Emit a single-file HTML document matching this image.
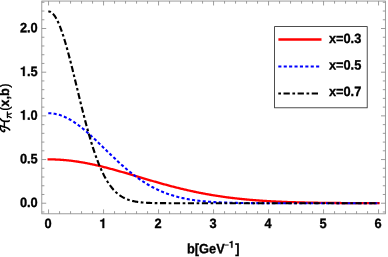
<!DOCTYPE html>
<html><head><meta charset="utf-8"><style>
html,body{margin:0;padding:0;background:#fff;}
svg{display:block;will-change:transform;}
text{text-rendering:geometricPrecision;font-kerning:none;font-family:"Liberation Sans",sans-serif;font-weight:bold;font-size:13px;}
.t{fill:#000;stroke:#000;stroke-width:0.3px;}
</style></head><body>
<svg width="388" height="257" viewBox="0 0 388 257">
<rect width="388" height="257" fill="#fff"/>
<g fill="none" stroke-linejoin="round">
<path d="M48.66,159.38 L49.48,159.38 L50.31,159.38 L51.13,159.39 L51.96,159.41 L52.78,159.42 L53.61,159.45 L54.43,159.47 L55.26,159.50 L56.08,159.53 L56.91,159.57 L57.73,159.61 L58.56,159.65 L59.38,159.70 L60.21,159.75 L61.03,159.80 L61.86,159.86 L62.68,159.92 L63.51,159.99 L64.33,160.06 L65.15,160.13 L65.98,160.20 L66.80,160.28 L67.63,160.37 L68.45,160.45 L69.28,160.54 L70.10,160.64 L70.93,160.73 L71.75,160.83 L72.58,160.94 L73.40,161.04 L74.23,161.15 L75.05,161.27 L75.88,161.38 L76.70,161.50 L77.53,161.63 L78.35,161.75 L79.17,161.88 L80.00,162.02 L80.82,162.15 L81.65,162.29 L82.47,162.43 L83.30,162.58 L84.12,162.73 L84.95,162.88 L85.77,163.03 L86.60,163.19 L87.42,163.35 L88.25,163.51 L89.07,163.67 L89.90,163.84 L90.72,164.01 L91.55,164.18 L92.37,164.36 L93.20,164.54 L94.02,164.72 L94.84,164.90 L95.67,165.08 L96.49,165.27 L97.32,165.46 L98.14,165.65 L98.97,165.85 L99.79,166.04 L100.62,166.24 L101.44,166.44 L102.27,166.64 L103.09,166.85 L103.92,167.06 L104.74,167.26 L105.57,167.47 L106.39,167.69 L107.22,167.90 L108.04,168.12 L108.86,168.33 L109.69,168.55 L110.51,168.77 L111.34,168.99 L112.16,169.22 L112.99,169.44 L113.81,169.67 L114.64,169.90 L115.46,170.13 L116.29,170.36 L117.11,170.59 L117.94,170.82 L118.76,171.05 L119.59,171.29 L120.41,171.52 L121.24,171.76 L122.06,172.00 L122.89,172.24 L123.71,172.47 L124.53,172.71 L125.36,172.95 L126.18,173.20 L127.01,173.44 L127.83,173.68 L128.66,173.92 L129.48,174.17 L130.31,174.41 L131.13,174.66 L131.96,174.90 L132.78,175.14 L133.61,175.39 L134.43,175.64 L135.26,175.88 L136.08,176.13 L136.91,176.37 L137.73,176.62 L138.56,176.86 L139.38,177.11 L140.20,177.36 L141.03,177.60 L141.85,177.85 L142.68,178.09 L143.50,178.34 L144.33,178.58 L145.15,178.83 L145.98,179.07 L146.80,179.31 L147.63,179.56 L148.45,179.80 L149.28,180.04 L150.10,180.28 L150.93,180.53 L151.75,180.77 L152.58,181.01 L153.40,181.24 L154.22,181.48 L155.05,181.72 L155.87,181.96 L156.70,182.19 L157.52,182.43 L158.35,182.66 L159.17,182.90 L160.00,183.13 L160.82,183.36 L161.65,183.59 L162.47,183.82 L163.30,184.05 L164.12,184.28 L164.95,184.50 L165.77,184.73 L166.60,184.95 L167.42,185.18 L168.25,185.40 L169.07,185.62 L169.89,185.84 L170.72,186.06 L171.54,186.27 L172.37,186.49 L173.19,186.70 L174.02,186.91 L174.84,187.13 L175.67,187.34 L176.49,187.54 L177.32,187.75 L178.14,187.96 L178.97,188.16 L179.79,188.36 L180.62,188.57 L181.44,188.77 L182.27,188.96 L183.09,189.16 L183.91,189.36 L184.74,189.55 L185.56,189.74 L186.39,189.93 L187.21,190.12 L188.04,190.31 L188.86,190.50 L189.69,190.68 L190.51,190.86 L191.34,191.04 L192.16,191.22 L192.99,191.40 L193.81,191.58 L194.64,191.75 L195.46,191.92 L196.29,192.10 L197.11,192.27 L197.94,192.43 L198.76,192.60 L199.58,192.76 L200.41,192.93 L201.23,193.09 L202.06,193.25 L202.88,193.41 L203.71,193.56 L204.53,193.72 L205.36,193.87 L206.18,194.02 L207.01,194.17 L207.83,194.32 L208.66,194.46 L209.48,194.61 L210.31,194.75 L211.13,194.89 L211.96,195.03 L212.78,195.17 L213.61,195.31 L214.43,195.44 L215.25,195.57 L216.08,195.71 L216.90,195.84 L217.73,195.96 L218.55,196.09 L219.38,196.22 L220.20,196.34 L221.03,196.46 L221.85,196.58 L222.68,196.70 L223.50,196.82 L224.33,196.93 L225.15,197.05 L225.98,197.16 L226.80,197.27 L227.63,197.38 L228.45,197.49 L229.27,197.59 L230.10,197.70 L230.92,197.80 L231.75,197.90 L232.57,198.00 L233.40,198.10 L234.22,198.20 L235.05,198.30 L235.87,198.39 L236.70,198.48 L237.52,198.58 L238.35,198.67 L239.17,198.75 L240.00,198.84 L240.82,198.93 L241.65,199.01 L242.47,199.10 L243.30,199.18 L244.12,199.26 L244.94,199.34 L245.77,199.42 L246.59,199.50 L247.42,199.57 L248.24,199.65 L249.07,199.72 L249.89,199.79 L250.72,199.86 L251.54,199.93 L252.37,200.00 L253.19,200.07 L254.02,200.14 L254.84,200.20 L255.67,200.27 L256.49,200.33 L257.32,200.39 L258.14,200.45 L258.96,200.51 L259.79,200.57 L260.61,200.63 L261.44,200.68 L262.26,200.74 L263.09,200.80 L263.91,200.85 L264.74,200.90 L265.56,200.95 L266.39,201.00 L267.21,201.05 L268.04,201.10 L268.86,201.15 L269.69,201.20 L270.51,201.24 L271.34,201.29 L272.16,201.33 L272.99,201.38 L273.81,201.42 L274.63,201.46 L275.46,201.50 L276.28,201.54 L277.11,201.58 L277.93,201.62 L278.76,201.66 L279.58,201.70 L280.41,201.73 L281.23,201.77 L282.06,201.80 L282.88,201.84 L283.71,201.87 L284.53,201.90 L285.36,201.93 L286.18,201.97 L287.01,202.00 L287.83,202.03 L288.65,202.06 L289.48,202.09 L290.30,202.11 L291.13,202.14 L291.95,202.17 L292.78,202.19 L293.60,202.22 L294.43,202.25 L295.25,202.27 L296.08,202.30 L296.90,202.32 L297.73,202.34 L298.55,202.36 L299.38,202.39 L300.20,202.41 L301.03,202.43 L301.85,202.45 L302.68,202.47 L303.50,202.49 L304.32,202.51 L305.15,202.53 L305.97,202.55 L306.80,202.57 L307.62,202.58 L308.45,202.60 L309.27,202.62 L310.10,202.63 L310.92,202.65 L311.75,202.66 L312.57,202.68 L313.40,202.69 L314.22,202.71 L315.05,202.72 L315.87,202.74 L316.70,202.75 L317.52,202.76 L318.35,202.78 L319.17,202.79 L319.99,202.80 L320.82,202.81 L321.64,202.82 L322.47,202.84 L323.29,202.85 L324.12,202.86 L324.94,202.87 L325.77,202.88 L326.59,202.89 L327.42,202.90 L328.24,202.91 L329.07,202.92 L329.89,202.93 L330.72,202.93 L331.54,202.94 L332.37,202.95 L333.19,202.96 L334.01,202.97 L334.84,202.98 L335.66,202.98 L336.49,202.99 L337.31,203.00 L338.14,203.00 L338.96,203.01 L339.79,203.02 L340.61,203.02 L341.44,203.03 L342.26,203.04 L343.09,203.04 L343.91,203.05 L344.74,203.05 L345.56,203.06 L346.39,203.06 L347.21,203.07 L348.04,203.07 L348.86,203.08 L349.68,203.08 L350.51,203.09 L351.33,203.09 L352.16,203.10 L352.98,203.10 L353.81,203.10 L354.63,203.11 L355.46,203.11 L356.28,203.12 L357.11,203.12 L357.93,203.12 L358.76,203.13 L359.58,203.13 L360.41,203.13 L361.23,203.14 L362.06,203.14 L362.88,203.14 L363.70,203.14 L364.53,203.15 L365.35,203.15 L366.18,203.15 L367.00,203.15 L367.83,203.16 L368.65,203.16 L369.48,203.16 L370.30,203.16 L371.13,203.17 L371.95,203.17 L372.78,203.17 L373.60,203.17 L374.43,203.17 L375.25,203.18 L376.08,203.18 L376.90,203.18 L377.73,203.18 L378.55,203.18" stroke="#ff0000" stroke-width="2.3" stroke-linecap="square"/>
<path d="M48.27,113.25 L49.10,113.25 L49.93,113.28 L50.75,113.32 L51.58,113.38 L52.40,113.46 L53.23,113.56 L54.05,113.68 L54.88,113.82 L55.71,113.98 L56.53,114.16 L57.36,114.35 L58.18,114.57 L59.01,114.80 L59.83,115.06 L60.66,115.33 L61.49,115.62 L62.31,115.92 L63.14,116.25 L63.96,116.59 L64.79,116.95 L65.61,117.33 L66.44,117.72 L67.27,118.13 L68.09,118.56 L68.92,119.00 L69.74,119.46 L70.57,119.94 L71.39,120.43 L72.22,120.93 L73.05,121.45 L73.87,121.99 L74.70,122.54 L75.52,123.10 L76.35,123.67 L77.17,124.26 L78.00,124.86 L78.83,125.48 L79.65,126.10 L80.48,126.74 L81.30,127.39 L82.13,128.05 L82.95,128.72 L83.78,129.39 L84.61,130.08 L85.43,130.78 L86.26,131.49 L87.08,132.21 L87.91,132.93 L88.73,133.66 L89.56,134.40 L90.39,135.15 L91.21,135.90 L92.04,136.66 L92.86,137.42 L93.69,138.19 L94.51,138.97 L95.34,139.75 L96.16,140.53 L96.99,141.32 L97.82,142.11 L98.64,142.90 L99.47,143.70 L100.29,144.50 L101.12,145.30 L101.94,146.10 L102.77,146.90 L103.60,147.71 L104.42,148.51 L105.25,149.32 L106.07,150.12 L106.90,150.92 L107.72,151.73 L108.55,152.53 L109.38,153.33 L110.20,154.12 L111.03,154.92 L111.85,155.71 L112.68,156.50 L113.50,157.29 L114.33,158.07 L115.16,158.85 L115.98,159.63 L116.81,160.40 L117.63,161.17 L118.46,161.93 L119.28,162.69 L120.11,163.44 L120.94,164.18 L121.76,164.93 L122.59,165.66 L123.41,166.39 L124.24,167.11 L125.06,167.83 L125.89,168.54 L126.72,169.24 L127.54,169.94 L128.37,170.62 L129.19,171.31 L130.02,171.98 L130.84,172.64 L131.67,173.30 L132.50,173.95 L133.32,174.60 L134.15,175.23 L134.97,175.86 L135.80,176.48 L136.62,177.09 L137.45,177.69 L138.27,178.28 L139.10,178.87 L139.93,179.44 L140.75,180.01 L141.58,180.57 L142.40,181.12 L143.23,181.66 L144.05,182.19 L144.88,182.72 L145.71,183.23 L146.53,183.74 L147.36,184.24 L148.18,184.73 L149.01,185.21 L149.83,185.68 L150.66,186.14 L151.49,186.60 L152.31,187.05 L153.14,187.48 L153.96,187.91 L154.79,188.33 L155.61,188.74 L156.44,189.15 L157.27,189.54 L158.09,189.93 L158.92,190.31 L159.74,190.68 L160.57,191.05 L161.39,191.40 L162.22,191.75 L163.05,192.09 L163.87,192.42 L164.70,192.74 L165.52,193.06 L166.35,193.37 L167.17,193.67 L168.00,193.97 L168.83,194.25 L169.65,194.53 L170.48,194.81 L171.30,195.07 L172.13,195.33 L172.95,195.59 L173.78,195.84 L174.61,196.08 L175.43,196.31 L176.26,196.54 L177.08,196.76 L177.91,196.98 L178.73,197.19 L179.56,197.39 L180.38,197.59 L181.21,197.78 L182.04,197.97 L182.86,198.15 L183.69,198.33 L184.51,198.50 L185.34,198.67 L186.16,198.83 L186.99,198.98 L187.82,199.14 L188.64,199.28 L189.47,199.43 L190.29,199.57 L191.12,199.70 L191.94,199.83 L192.77,199.96 L193.60,200.08 L194.42,200.20 L195.25,200.31 L196.07,200.42 L196.90,200.53 L197.72,200.63 L198.55,200.73 L199.38,200.83 L200.20,200.92 L201.03,201.02 L201.85,201.10 L202.68,201.19 L203.50,201.27 L204.33,201.35 L205.16,201.42 L205.98,201.50 L206.81,201.57 L207.63,201.63 L208.46,201.70 L209.28,201.76 L210.11,201.82 L210.94,201.88 L211.76,201.94 L212.59,201.99 L213.41,202.05 L214.24,202.10 L215.06,202.14 L215.89,202.19 L216.72,202.24 L217.54,202.28 L218.37,202.32 L219.19,202.36 L220.02,202.40 L220.84,202.44 L221.67,202.47 L222.50,202.50 L223.32,202.54 L224.15,202.57 L224.97,202.60 L225.80,202.63 L226.62,202.65 L227.45,202.68 L228.27,202.71 L229.10,202.73 L229.93,202.75 L230.75,202.78 L231.58,202.80 L232.40,202.82 L233.23,202.84 L234.05,202.86 L234.88,202.87 L235.71,202.89 L236.53,202.91 L237.36,202.92 L238.18,202.94 L239.01,202.95 L239.83,202.97 L240.66,202.98 L241.49,202.99 L242.31,203.00 L243.14,203.01 L243.96,203.03 L244.79,203.04 L245.61,203.05 L246.44,203.05 L247.27,203.06 L248.09,203.07 L248.92,203.08 L249.74,203.09 L250.57,203.10 L251.39,203.10 L252.22,203.11 L253.05,203.12 L253.87,203.12 L254.70,203.13 L255.52,203.13 L256.35,203.14 L257.17,203.14 L258.00,203.15 L258.83,203.15 L259.65,203.16 L260.48,203.16 L261.30,203.16 L262.13,203.17 L262.95,203.17 L263.78,203.17 L264.61,203.18 L265.43,203.18 L266.26,203.18 L267.08,203.19 L267.91,203.19 L268.73,203.19 L269.56,203.19 L270.38,203.19 L271.21,203.20 L272.04,203.20 L272.86,203.20 L273.69,203.20 L274.51,203.20 L275.34,203.21 L276.16,203.21 L276.99,203.21 L277.82,203.21 L278.64,203.21 L279.47,203.21 L280.29,203.21 L281.12,203.21 L281.94,203.21 L282.77,203.22 L283.60,203.22 L284.42,203.22 L285.25,203.22 L286.07,203.22 L286.90,203.22 L287.72,203.22 L288.55,203.22 L289.38,203.22 L290.20,203.22 L291.03,203.22 L291.85,203.22 L292.68,203.22 L293.50,203.22 L294.33,203.22 L295.16,203.22 L295.98,203.22 L296.81,203.23 L297.63,203.23 L298.46,203.23 L299.28,203.23 L300.11,203.23 L300.94,203.23 L301.76,203.23 L302.59,203.23 L303.41,203.23 L304.24,203.23 L305.06,203.23 L305.89,203.23 L306.72,203.23 L307.54,203.23 L308.37,203.23 L309.19,203.23 L310.02,203.23 L310.84,203.23 L311.67,203.23 L312.50,203.23 L313.32,203.23 L314.15,203.23 L314.97,203.23 L315.80,203.23 L316.62,203.23 L317.45,203.23 L318.27,203.23 L319.10,203.23 L319.93,203.23 L320.75,203.23 L321.58,203.23 L322.40,203.23 L323.23,203.23 L324.05,203.23 L324.88,203.23 L325.71,203.23 L326.53,203.23 L327.36,203.23 L328.18,203.23 L329.01,203.23 L329.83,203.23 L330.66,203.23 L331.49,203.23 L332.31,203.23 L333.14,203.23 L333.96,203.23 L334.79,203.23 L335.61,203.23 L336.44,203.23 L337.27,203.23 L338.09,203.23 L338.92,203.23 L339.74,203.23 L340.57,203.23 L341.39,203.23 L342.22,203.23 L343.05,203.23 L343.87,203.23 L344.70,203.23 L345.52,203.23 L346.35,203.23 L347.17,203.23 L348.00,203.23 L348.83,203.23 L349.65,203.23 L350.48,203.23 L351.30,203.23 L352.13,203.23 L352.95,203.23 L353.78,203.23 L354.61,203.23 L355.43,203.23 L356.26,203.23 L357.08,203.23 L357.91,203.23 L358.73,203.23 L359.56,203.23 L360.38,203.23 L361.21,203.23 L362.04,203.23 L362.86,203.23 L363.69,203.23 L364.51,203.23 L365.34,203.23 L366.16,203.23 L366.99,203.23 L367.82,203.23 L368.64,203.23 L369.47,203.23 L370.29,203.23 L371.12,203.23 L371.94,203.23 L372.77,203.23 L373.60,203.23 L374.42,203.23 L375.25,203.23 L376.07,203.23 L376.90,203.23 L377.72,203.23 L378.55,203.23" stroke="#0000ff" stroke-width="2.1" stroke-dasharray="3.08 2.283"/>
<path d="M48.27,11.48 L49.10,11.51 L49.93,11.70 L50.75,12.06 L51.58,12.58 L52.40,13.25 L53.23,14.09 L54.05,15.09 L54.88,16.24 L55.71,17.54 L56.53,19.00 L57.36,20.59 L58.18,22.33 L59.01,24.21 L59.83,26.21 L60.66,28.35 L61.49,30.61 L62.31,32.98 L63.14,35.46 L63.96,38.05 L64.79,40.74 L65.61,43.53 L66.44,46.40 L67.27,49.34 L68.09,52.37 L68.92,55.46 L69.74,58.61 L70.57,61.81 L71.39,65.07 L72.22,68.36 L73.05,71.69 L73.87,75.04 L74.70,78.42 L75.52,81.81 L76.35,85.21 L77.17,88.61 L78.00,92.01 L78.83,95.41 L79.65,98.78 L80.48,102.14 L81.30,105.48 L82.13,108.78 L82.95,112.05 L83.78,115.29 L84.61,118.48 L85.43,121.63 L86.26,124.72 L87.08,127.77 L87.91,130.75 L88.73,133.68 L89.56,136.55 L90.39,139.35 L91.21,142.09 L92.04,144.76 L92.86,147.37 L93.69,149.90 L94.51,152.36 L95.34,154.75 L96.16,157.07 L96.99,159.31 L97.82,161.48 L98.64,163.58 L99.47,165.60 L100.29,167.55 L101.12,169.43 L101.94,171.24 L102.77,172.97 L103.60,174.64 L104.42,176.24 L105.25,177.77 L106.07,179.23 L106.90,180.63 L107.72,181.97 L108.55,183.24 L109.38,184.46 L110.20,185.61 L111.03,186.71 L111.85,187.75 L112.68,188.74 L113.50,189.68 L114.33,190.57 L115.16,191.41 L115.98,192.20 L116.81,192.95 L117.63,193.66 L118.46,194.33 L119.28,194.95 L120.11,195.54 L120.94,196.09 L121.76,196.61 L122.59,197.10 L123.41,197.55 L124.24,197.98 L125.06,198.38 L125.89,198.75 L126.72,199.10 L127.54,199.42 L128.37,199.72 L129.19,200.00 L130.02,200.26 L130.84,200.50 L131.67,200.73 L132.50,200.94 L133.32,201.13 L134.15,201.31 L134.97,201.47 L135.80,201.62 L136.62,201.76 L137.45,201.89 L138.27,202.01 L139.10,202.12 L139.93,202.22 L140.75,202.31 L141.58,202.39 L142.40,202.47 L143.23,202.54 L144.05,202.61 L144.88,202.67 L145.71,202.72 L146.53,202.77 L147.36,202.81 L148.18,202.85 L149.01,202.89 L149.83,202.92 L150.66,202.96 L151.49,202.98 L152.31,203.01 L153.14,203.03 L153.96,203.05 L154.79,203.07 L155.61,203.09 L156.44,203.10 L157.27,203.12 L158.09,203.13 L158.92,203.14 L159.74,203.15 L160.57,203.16 L161.39,203.17 L162.22,203.17 L163.05,203.18 L163.87,203.18 L164.70,203.19 L165.52,203.19 L166.35,203.20 L167.17,203.20 L168.00,203.21 L168.83,203.21 L169.65,203.21 L170.48,203.21 L171.30,203.22 L172.13,203.22 L172.95,203.22 L173.78,203.22 L174.61,203.22 L175.43,203.22 L176.26,203.22 L177.08,203.22 L177.91,203.22 L178.73,203.23 L179.56,203.23 L180.38,203.23 L181.21,203.23 L182.04,203.23 L182.86,203.23 L183.69,203.23 L184.51,203.23 L185.34,203.23 L186.16,203.23 L186.99,203.23 L187.82,203.23 L188.64,203.23 L189.47,203.23 L190.29,203.23 L191.12,203.23 L191.94,203.23 L192.77,203.23 L193.60,203.23 L194.42,203.23 L195.25,203.23 L196.07,203.23 L196.90,203.23 L197.72,203.23 L198.55,203.23 L199.38,203.23 L200.20,203.23 L201.03,203.23 L201.85,203.23 L202.68,203.23 L203.50,203.23 L204.33,203.23 L205.16,203.23 L205.98,203.23 L206.81,203.23 L207.63,203.23 L208.46,203.23 L209.28,203.23 L210.11,203.23 L210.94,203.23 L211.76,203.23 L212.59,203.23 L213.41,203.23 L214.24,203.23 L215.06,203.23 L215.89,203.23 L216.72,203.23 L217.54,203.23 L218.37,203.23 L219.19,203.23 L220.02,203.23 L220.84,203.23 L221.67,203.23 L222.50,203.23 L223.32,203.23 L224.15,203.23 L224.97,203.23 L225.80,203.23 L226.62,203.23 L227.45,203.23 L228.27,203.23 L229.10,203.23 L229.93,203.23 L230.75,203.23 L231.58,203.23 L232.40,203.23 L233.23,203.23 L234.05,203.23 L234.88,203.23 L235.71,203.23 L236.53,203.23 L237.36,203.23 L238.18,203.23 L239.01,203.23 L239.83,203.23 L240.66,203.23 L241.49,203.23 L242.31,203.23 L243.14,203.23 L243.96,203.23 L244.79,203.23 L245.61,203.23 L246.44,203.23 L247.27,203.23 L248.09,203.23 L248.92,203.23 L249.74,203.23 L250.57,203.23 L251.39,203.23 L252.22,203.23 L253.05,203.23 L253.87,203.23 L254.70,203.23 L255.52,203.23 L256.35,203.23 L257.17,203.23 L258.00,203.23 L258.83,203.23 L259.65,203.23 L260.48,203.23 L261.30,203.23 L262.13,203.23 L262.95,203.23 L263.78,203.23 L264.61,203.23 L265.43,203.23 L266.26,203.23 L267.08,203.23 L267.91,203.23 L268.73,203.23 L269.56,203.23 L270.38,203.23 L271.21,203.23 L272.04,203.23 L272.86,203.23 L273.69,203.23 L274.51,203.23 L275.34,203.23 L276.16,203.23 L276.99,203.23 L277.82,203.23 L278.64,203.23 L279.47,203.23 L280.29,203.23 L281.12,203.23 L281.94,203.23 L282.77,203.23 L283.60,203.23 L284.42,203.23 L285.25,203.23 L286.07,203.23 L286.90,203.23 L287.72,203.23 L288.55,203.23 L289.38,203.23 L290.20,203.23 L291.03,203.23 L291.85,203.23 L292.68,203.23 L293.50,203.23 L294.33,203.23 L295.16,203.23 L295.98,203.23 L296.81,203.23 L297.63,203.23 L298.46,203.23 L299.28,203.23 L300.11,203.23 L300.94,203.23 L301.76,203.23 L302.59,203.23 L303.41,203.23 L304.24,203.23 L305.06,203.23 L305.89,203.23 L306.72,203.23 L307.54,203.23 L308.37,203.23 L309.19,203.23 L310.02,203.23 L310.84,203.23 L311.67,203.23 L312.50,203.23 L313.32,203.23 L314.15,203.23 L314.97,203.23 L315.80,203.23 L316.62,203.23 L317.45,203.23 L318.27,203.23 L319.10,203.23 L319.93,203.23 L320.75,203.23 L321.58,203.23 L322.40,203.23 L323.23,203.23 L324.05,203.23 L324.88,203.23 L325.71,203.23 L326.53,203.23 L327.36,203.23 L328.18,203.23 L329.01,203.23 L329.83,203.23 L330.66,203.23 L331.49,203.23 L332.31,203.23 L333.14,203.23 L333.96,203.23 L334.79,203.23 L335.61,203.23 L336.44,203.23 L337.27,203.23 L338.09,203.23 L338.92,203.23 L339.74,203.23 L340.57,203.23 L341.39,203.23 L342.22,203.23 L343.05,203.23 L343.87,203.23 L344.70,203.23 L345.52,203.23 L346.35,203.23 L347.17,203.23 L348.00,203.23 L348.83,203.23 L349.65,203.23 L350.48,203.23 L351.30,203.23 L352.13,203.23 L352.95,203.23 L353.78,203.23 L354.61,203.23 L355.43,203.23 L356.26,203.23 L357.08,203.23 L357.91,203.23 L358.73,203.23 L359.56,203.23 L360.38,203.23 L361.21,203.23 L362.04,203.23 L362.86,203.23 L363.69,203.23 L364.51,203.23 L365.34,203.23 L366.16,203.23 L366.99,203.23 L367.82,203.23 L368.64,203.23 L369.47,203.23 L370.29,203.23 L371.12,203.23 L371.94,203.23 L372.77,203.23 L373.60,203.23 L374.42,203.23 L375.25,203.23 L376.07,203.23 L376.90,203.23 L377.72,203.23 L378.55,203.23" stroke="#000" stroke-width="2.15" stroke-dasharray="2.68 2.57 6.15 2.57"/>
</g>
<g stroke="#8a8a8a" stroke-width="0.85" fill="none">
<rect x="41.8" y="1.05" width="343.59999999999997" height="212.75"/>
<line x1="48.55" y1="213.80" x2="48.55" y2="209.40"/><line x1="48.55" y1="1.05" x2="48.55" y2="5.45"/><line x1="59.55" y1="213.80" x2="59.55" y2="211.20"/><line x1="59.55" y1="1.05" x2="59.55" y2="3.65"/><line x1="70.55" y1="213.80" x2="70.55" y2="211.20"/><line x1="70.55" y1="1.05" x2="70.55" y2="3.65"/><line x1="81.55" y1="213.80" x2="81.55" y2="211.20"/><line x1="81.55" y1="1.05" x2="81.55" y2="3.65"/><line x1="92.55" y1="213.80" x2="92.55" y2="211.20"/><line x1="92.55" y1="1.05" x2="92.55" y2="3.65"/><line x1="103.55" y1="213.80" x2="103.55" y2="209.40"/><line x1="103.55" y1="1.05" x2="103.55" y2="5.45"/><line x1="114.55" y1="213.80" x2="114.55" y2="211.20"/><line x1="114.55" y1="1.05" x2="114.55" y2="3.65"/><line x1="125.55" y1="213.80" x2="125.55" y2="211.20"/><line x1="125.55" y1="1.05" x2="125.55" y2="3.65"/><line x1="136.55" y1="213.80" x2="136.55" y2="211.20"/><line x1="136.55" y1="1.05" x2="136.55" y2="3.65"/><line x1="147.55" y1="213.80" x2="147.55" y2="211.20"/><line x1="147.55" y1="1.05" x2="147.55" y2="3.65"/><line x1="158.55" y1="213.80" x2="158.55" y2="209.40"/><line x1="158.55" y1="1.05" x2="158.55" y2="5.45"/><line x1="169.55" y1="213.80" x2="169.55" y2="211.20"/><line x1="169.55" y1="1.05" x2="169.55" y2="3.65"/><line x1="180.55" y1="213.80" x2="180.55" y2="211.20"/><line x1="180.55" y1="1.05" x2="180.55" y2="3.65"/><line x1="191.55" y1="213.80" x2="191.55" y2="211.20"/><line x1="191.55" y1="1.05" x2="191.55" y2="3.65"/><line x1="202.55" y1="213.80" x2="202.55" y2="211.20"/><line x1="202.55" y1="1.05" x2="202.55" y2="3.65"/><line x1="213.55" y1="213.80" x2="213.55" y2="209.40"/><line x1="213.55" y1="1.05" x2="213.55" y2="5.45"/><line x1="224.55" y1="213.80" x2="224.55" y2="211.20"/><line x1="224.55" y1="1.05" x2="224.55" y2="3.65"/><line x1="235.55" y1="213.80" x2="235.55" y2="211.20"/><line x1="235.55" y1="1.05" x2="235.55" y2="3.65"/><line x1="246.55" y1="213.80" x2="246.55" y2="211.20"/><line x1="246.55" y1="1.05" x2="246.55" y2="3.65"/><line x1="257.55" y1="213.80" x2="257.55" y2="211.20"/><line x1="257.55" y1="1.05" x2="257.55" y2="3.65"/><line x1="268.55" y1="213.80" x2="268.55" y2="209.40"/><line x1="268.55" y1="1.05" x2="268.55" y2="5.45"/><line x1="279.55" y1="213.80" x2="279.55" y2="211.20"/><line x1="279.55" y1="1.05" x2="279.55" y2="3.65"/><line x1="290.55" y1="213.80" x2="290.55" y2="211.20"/><line x1="290.55" y1="1.05" x2="290.55" y2="3.65"/><line x1="301.55" y1="213.80" x2="301.55" y2="211.20"/><line x1="301.55" y1="1.05" x2="301.55" y2="3.65"/><line x1="312.55" y1="213.80" x2="312.55" y2="211.20"/><line x1="312.55" y1="1.05" x2="312.55" y2="3.65"/><line x1="323.55" y1="213.80" x2="323.55" y2="209.40"/><line x1="323.55" y1="1.05" x2="323.55" y2="5.45"/><line x1="334.55" y1="213.80" x2="334.55" y2="211.20"/><line x1="334.55" y1="1.05" x2="334.55" y2="3.65"/><line x1="345.55" y1="213.80" x2="345.55" y2="211.20"/><line x1="345.55" y1="1.05" x2="345.55" y2="3.65"/><line x1="356.55" y1="213.80" x2="356.55" y2="211.20"/><line x1="356.55" y1="1.05" x2="356.55" y2="3.65"/><line x1="367.55" y1="213.80" x2="367.55" y2="211.20"/><line x1="367.55" y1="1.05" x2="367.55" y2="3.65"/><line x1="378.55" y1="213.80" x2="378.55" y2="209.40"/><line x1="378.55" y1="1.05" x2="378.55" y2="5.45"/><line x1="41.80" y1="211.97" x2="44.40" y2="211.97"/><line x1="385.40" y1="211.97" x2="382.80" y2="211.97"/><line x1="41.80" y1="203.23" x2="46.20" y2="203.23"/><line x1="385.40" y1="203.23" x2="381.00" y2="203.23"/><line x1="41.80" y1="194.49" x2="44.40" y2="194.49"/><line x1="385.40" y1="194.49" x2="382.80" y2="194.49"/><line x1="41.80" y1="185.76" x2="44.40" y2="185.76"/><line x1="385.40" y1="185.76" x2="382.80" y2="185.76"/><line x1="41.80" y1="177.02" x2="44.40" y2="177.02"/><line x1="385.40" y1="177.02" x2="382.80" y2="177.02"/><line x1="41.80" y1="168.29" x2="44.40" y2="168.29"/><line x1="385.40" y1="168.29" x2="382.80" y2="168.29"/><line x1="41.80" y1="159.55" x2="46.20" y2="159.55"/><line x1="385.40" y1="159.55" x2="381.00" y2="159.55"/><line x1="41.80" y1="150.81" x2="44.40" y2="150.81"/><line x1="385.40" y1="150.81" x2="382.80" y2="150.81"/><line x1="41.80" y1="142.08" x2="44.40" y2="142.08"/><line x1="385.40" y1="142.08" x2="382.80" y2="142.08"/><line x1="41.80" y1="133.34" x2="44.40" y2="133.34"/><line x1="385.40" y1="133.34" x2="382.80" y2="133.34"/><line x1="41.80" y1="124.61" x2="44.40" y2="124.61"/><line x1="385.40" y1="124.61" x2="382.80" y2="124.61"/><line x1="41.80" y1="115.87" x2="46.20" y2="115.87"/><line x1="385.40" y1="115.87" x2="381.00" y2="115.87"/><line x1="41.80" y1="107.13" x2="44.40" y2="107.13"/><line x1="385.40" y1="107.13" x2="382.80" y2="107.13"/><line x1="41.80" y1="98.40" x2="44.40" y2="98.40"/><line x1="385.40" y1="98.40" x2="382.80" y2="98.40"/><line x1="41.80" y1="89.66" x2="44.40" y2="89.66"/><line x1="385.40" y1="89.66" x2="382.80" y2="89.66"/><line x1="41.80" y1="80.93" x2="44.40" y2="80.93"/><line x1="385.40" y1="80.93" x2="382.80" y2="80.93"/><line x1="41.80" y1="72.19" x2="46.20" y2="72.19"/><line x1="385.40" y1="72.19" x2="381.00" y2="72.19"/><line x1="41.80" y1="63.45" x2="44.40" y2="63.45"/><line x1="385.40" y1="63.45" x2="382.80" y2="63.45"/><line x1="41.80" y1="54.72" x2="44.40" y2="54.72"/><line x1="385.40" y1="54.72" x2="382.80" y2="54.72"/><line x1="41.80" y1="45.98" x2="44.40" y2="45.98"/><line x1="385.40" y1="45.98" x2="382.80" y2="45.98"/><line x1="41.80" y1="37.25" x2="44.40" y2="37.25"/><line x1="385.40" y1="37.25" x2="382.80" y2="37.25"/><line x1="41.80" y1="28.51" x2="46.20" y2="28.51"/><line x1="385.40" y1="28.51" x2="381.00" y2="28.51"/><line x1="41.80" y1="19.77" x2="44.40" y2="19.77"/><line x1="385.40" y1="19.77" x2="382.80" y2="19.77"/><line x1="41.80" y1="11.04" x2="44.40" y2="11.04"/><line x1="385.40" y1="11.04" x2="382.80" y2="11.04"/><line x1="41.80" y1="2.30" x2="44.40" y2="2.30"/><line x1="385.40" y1="2.30" x2="382.80" y2="2.30"/>
</g>
<g class="t" transform="translate(47.95,228.10) rotate(0.03) scale(0.985,1.035)"><text x="-3.61" y="0">0</text></g><g class="t" transform="translate(102.95,228.10) rotate(0.03) scale(0.985,1.035)"><path transform="translate(-3.61,0) scale(0.01300,-0.01300)" d="M378,0 L238,0 L238,498 L72,498 L72,596 C180,598 262,628 284,712 L378,712 Z" stroke-width="23.1"><title>1</title></path></g><g class="t" transform="translate(157.95,228.10) rotate(0.03) scale(0.985,1.035)"><text x="-3.61" y="0">2</text></g><g class="t" transform="translate(212.95,228.10) rotate(0.03) scale(0.985,1.035)"><text x="-3.61" y="0">3</text></g><g class="t" transform="translate(267.95,228.10) rotate(0.03) scale(0.985,1.035)"><text x="-3.61" y="0">4</text></g><g class="t" transform="translate(322.95,228.10) rotate(0.03) scale(0.985,1.035)"><text x="-3.61" y="0">5</text></g><g class="t" transform="translate(377.95,228.10) rotate(0.03) scale(0.985,1.035)"><text x="-3.61" y="0">6</text></g>
<g class="t" transform="translate(37.70,207.03) rotate(0.03) scale(0.985,1.035)"><text x="-18.07" y="0">0.0</text></g><g class="t" transform="translate(37.70,163.35) rotate(0.03) scale(0.985,1.035)"><text x="-18.07" y="0">0.5</text></g><g class="t" transform="translate(37.70,119.67) rotate(0.03) scale(0.985,1.035)"><path transform="translate(-18.07,0) scale(0.01300,-0.01300)" d="M378,0 L238,0 L238,498 L72,498 L72,596 C180,598 262,628 284,712 L378,712 Z" stroke-width="23.1"><title>1</title></path><text x="-10.84" y="0">.0</text></g><g class="t" transform="translate(37.70,75.99) rotate(0.03) scale(0.985,1.035)"><path transform="translate(-18.07,0) scale(0.01300,-0.01300)" d="M378,0 L238,0 L238,498 L72,498 L72,596 C180,598 262,628 284,712 L378,712 Z" stroke-width="23.1"><title>1</title></path><text x="-10.84" y="0">.5</text></g><g class="t" transform="translate(37.70,32.31) rotate(0.03) scale(0.985,1.035)"><text x="-18.07" y="0">2.0</text></g>
<g class="t" transform="translate(187.00,253.30) rotate(0.03) scale(0.985,1.035)"><text x="0.00" y="0">b[GeV</text></g><line x1="225.0" y1="245.05" x2="228.7" y2="245.05" stroke="#111" stroke-width="0.95"/><g class="t" transform="translate(229.00,247.75) rotate(0.03) scale(0.985,1.035)"><path transform="translate(0.00,0) scale(0.00930,-0.00930)" d="M378,0 L238,0 L238,498 L72,498 L72,596 C180,598 262,628 284,712 L378,712 Z" stroke-width="32.3"><title>1</title></path></g><g class="t" transform="translate(235.30,253.30) rotate(0.03) scale(0.985,1.035)"><text x="0.00" y="0">]</text></g>
<g transform="translate(9.2,110.7) rotate(-90.03)"><g class="t" transform="translate(0.00,0.00) rotate(0.03) scale(0.985,1.035)"><text x="0.00" y="0" style="font-weight:normal">(</text></g></g><g transform="translate(9.2,106.74) rotate(-90.03)"><g class="t" transform="translate(0.00,0.00) rotate(0.03) scale(0.985,1.035)"><text x="0.00" y="0">x,b</text></g></g><g transform="translate(9.2,87.65) rotate(-90.03)"><g class="t" transform="translate(0.00,0.00) rotate(0.03) scale(0.985,1.035)"><text x="0.00" y="0" style="font-weight:normal">)</text></g></g>
<g fill="none" stroke="#000" stroke-linecap="round" stroke-linejoin="round"><title>ℋπ</title>
<path d="M7.4,111.8 L7.4,117.6" stroke-width="1.25"/>
<path d="M7.5,114.4 L10.6,113.8 L11.3,113.3 M7.5,116.0 L9.2,116.6 L11.3,117.7" stroke-width="1.2"/>
<path d="M0.2,118.6 C0.9,119.8 2.0,120.8 3.6,121.1 L7.8,121.4 C8.5,121.4 8.9,121.2 9.1,120.8" stroke-width="1.7"/>
<path d="M4.4,121.4 L4.3,127.0" stroke-width="1.45"/>
<path d="M4.4,129.9 C4.8,130.7 4.6,131.4 3.9,131.6 C2.8,131.8 1.6,130.8 0.9,129.6 C0.3,128.5 0.0,126.6 0.4,125.7 C1.5,126.0 2.8,126.5 3.7,126.8 L6.8,127.7 C8.2,128.2 9.0,128.9 9.6,129.9" stroke-width="1.7"/>
</g>
<rect x="274.6" y="26.6" width="92.6" height="81.2" fill="#fff" stroke="#222" stroke-width="0.8"/>
<line x1="278.4" y1="39.5" x2="321.5" y2="39.5" stroke="#ff0000" stroke-width="2.4"/>
<line x1="278.3" y1="66.6" x2="319.4" y2="66.6" stroke="#0000ff" stroke-width="2.0" stroke-dasharray="3.1 2.3"/>
<line x1="278.3" y1="93.4" x2="318.2" y2="93.4" stroke="#000" stroke-width="2.0" stroke-dasharray="2.7 2.5 6.3 2.6"/>
<g class="t" transform="translate(328.90,43.00) rotate(0.03) scale(0.985,1.035)"><text x="0.00" y="0">x=0.3</text></g>
<g class="t" transform="translate(328.90,69.50) rotate(0.03) scale(0.985,1.035)"><text x="0.00" y="0">x=0.5</text></g>
<g class="t" transform="translate(328.90,96.10) rotate(0.03) scale(0.985,1.035)"><text x="0.00" y="0">x=0.7</text></g>
</svg>
</body></html>
